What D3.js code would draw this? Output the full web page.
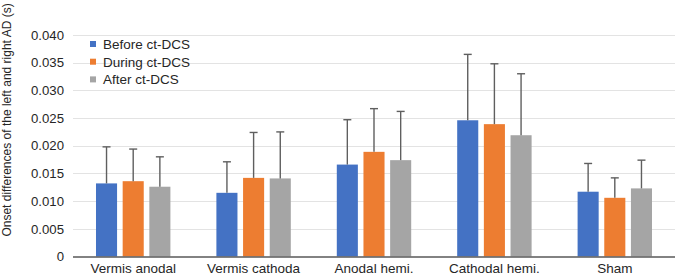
<!DOCTYPE html>
<html><head><meta charset="utf-8">
<script src="https://cdn.jsdelivr.net/npm/d3@7"></script>
<style>body{margin:0;background:#fff;}svg{display:block;font-family:"Liberation Sans",Arial,sans-serif;}</style>
</head><body>
<svg id="c" width="676" height="275"></svg>
<script>
const categories = ["Vermis anodal","Vermis cathoda","Anodal hemi.","Cathodal hemi.","Sham"];
const seriesNames = ["Before ct-DCS","During ct-DCS","After ct-DCS"];
const seriesColors = ["#4472C4","#ED7D31","#A5A5A5"];
const beforeMean = [0.0132,0.0115,0.0166,0.0246,0.0117];
const duringMean = [0.0136,0.0142,0.0189,0.0239,0.0106];
const afterMean  = [0.0126,0.0141,0.0174,0.0219,0.0123];
const beforeErr  = [0.0198,0.0171,0.0247,0.0365,0.0168];
const duringErr  = [0.0194,0.0224,0.0267,0.0348,0.0142];
const afterErr   = [0.0180,0.0225,0.0262,0.0330,0.0174];
const yTicks = [0,0.005,0.010,0.015,0.020,0.025,0.030,0.035,0.040];
const yTitle = "Onset differences of the left and right AD (s)";

const means = [beforeMean, duringMean, afterMean];
const tops = [beforeErr, duringErr, afterErr];

const svg = d3.select("#c");
const L = 73, R = 675, T = 35, B = 256.5;
const y = d3.scaleLinear().domain([0,0.04]).range([B,T]);
const x0 = d3.scaleBand().domain(categories).range([L,R]).paddingInner(0.382).paddingOuter(0.191);
const x1 = d3.scaleBand().domain(seriesNames).range([0,x0.bandwidth()]).paddingInner(0.21).paddingOuter(0);

// gridlines
svg.append("g").selectAll("line").data(yTicks.filter(d=>d>0)).join("line")
  .attr("x1",L).attr("x2",R).attr("y1",d=>Math.round(y(d))+0.5).attr("y2",d=>Math.round(y(d))+0.5)
  .attr("stroke","#e3e3e3").attr("stroke-width",1);

// y axis labels
const yAxis = d3.axisLeft(y).tickValues(yTicks).tickSize(0).tickPadding(0)
  .tickFormat(d=> d===0 ? "0" : d3.format(".3f")(d));
const ga = svg.append("g").attr("transform",`translate(${L-9},0)`).call(yAxis);
ga.select(".domain").remove();
ga.selectAll("text").attr("font-size",13.2).attr("fill","#262626").attr("font-family","Liberation Sans, Arial, sans-serif");

// bars
const rows = [];
categories.forEach((c,i)=>seriesNames.forEach((s,j)=>rows.push({c,s,j,v:means[j][i],e:tops[j][i]})));
const g = svg.append("g");
g.selectAll("rect").data(rows).join("rect")
  .attr("x",d=>x0(d.c)+x1(d.s)).attr("width",x1.bandwidth())
  .attr("y",d=>y(d.v)).attr("height",d=>y(0)-y(d.v))
  .attr("fill",d=>seriesColors[d.j]);

// error bars
const eg = svg.append("g").attr("stroke","#5f5f5f").attr("stroke-width",1.4);
rows.forEach(d=>{
  const cx = x0(d.c)+x1(d.s)+x1.bandwidth()/2;
  eg.append("line").attr("x1",cx).attr("x2",cx).attr("y1",y(d.v)).attr("y2",y(d.e));
  eg.append("line").attr("x1",cx-4).attr("x2",cx+4).attr("y1",y(d.e)).attr("y2",y(d.e));
});

// x axis line
svg.append("line").attr("x1",L).attr("x2",R).attr("y1",B+0.5).attr("y2",B+0.5)
  .attr("stroke","#595959").attr("stroke-width",1.5);

// x labels
svg.append("g").selectAll("text").data(categories).join("text")
  .attr("x",d=>x0(d)+x0.bandwidth()/2).attr("y",273.3).attr("text-anchor","middle")
  .attr("font-size",13.5).attr("fill","#262626").text(d=>d);

// y title
svg.append("text").attr("transform","translate(11,120) rotate(-90)").attr("text-anchor","middle")
  .attr("font-size",12).attr("fill","#262626").text(yTitle);

// legend
const lg = svg.append("g").selectAll("g").data(seriesNames).join("g")
  .attr("transform",(d,i)=>`translate(90,${44+i*17.7})`);
lg.append("rect").attr("x",0).attr("y",-3).attr("width",6).attr("height",6).attr("fill",(d,i)=>seriesColors[i]);
lg.append("text").attr("x",13).attr("y",5).attr("font-size",13.5).attr("fill","#262626").text(d=>d);
</script>
</body></html>
